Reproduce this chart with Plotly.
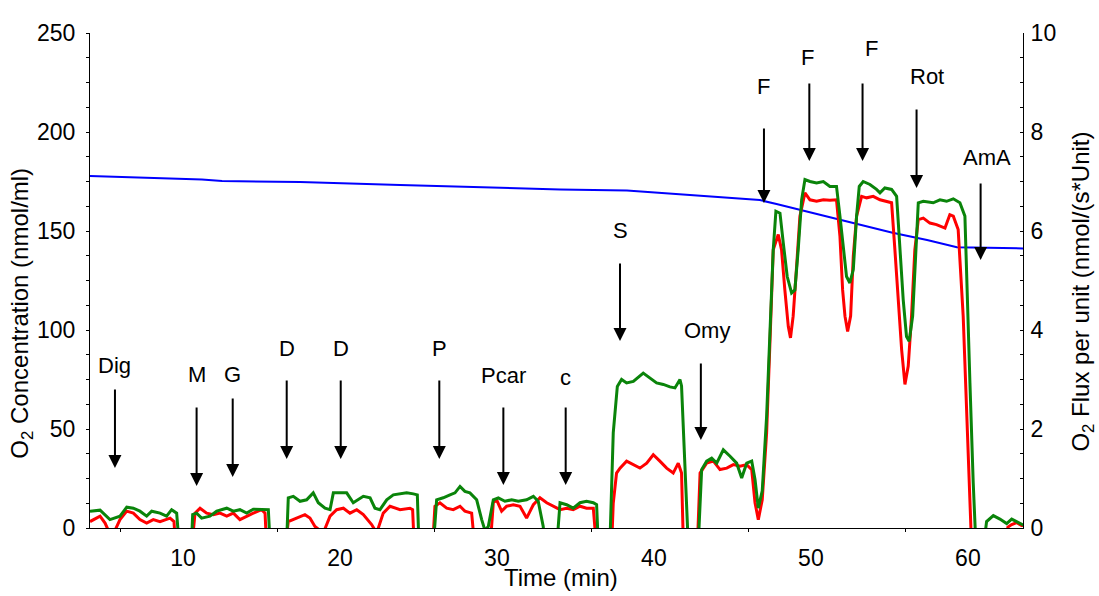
import plotly.graph_objects as go

# ---------------- data ----------------
# O2 concentration (left axis, nmol/ml)
conc_time = [4.08, 5.67, 8.09, 11.21, 12.49, 17.46, 23.83, 34.02, 38.28, 42.93, 46.75,
             47.81, 49.3, 51.4, 53.1, 55.2, 57.4, 59.3, 63.51]
conc_value = [177.8, 177.4, 176.6, 176.0, 175.2, 174.8, 173.2, 171.0, 170.5, 167.8, 165.6,
              163.6, 160.6, 156.4, 153.0, 149.1, 145.5, 141.8, 141.2]

# O2 flux per unit (right axis) - green trace
green_time = [4.08, 4.72, 5.35, 5.99, 6.42, 6.84, 7.26, 7.69, 8.01, 8.54, 8.96, 9.28, 9.60, 9.80,
              10.52, 10.62, 10.87, 11.19, 11.72, 12.15, 12.79, 13.21, 13.63, 14.06, 14.48, 14.91, 15.44, 15.58,
              16.58, 16.71, 17.03, 17.46, 17.88, 18.30, 18.62, 19.05, 19.37, 19.58, 20.43, 20.85, 21.49, 21.92,
              22.23, 22.55, 22.98, 23.40, 24.25, 24.68, 24.93, 25.05,
              25.92, 26.16, 26.58, 27.01, 27.33, 27.65, 27.96, 28.28, 28.71, 29.03, 29.24, 29.45, 29.77, 30.09,
              30.51, 30.94, 31.36, 31.89, 32.32, 32.63, 32.95, 33.08,
              33.78, 34.02, 34.44, 34.86, 35.29, 35.71, 36.14, 36.35, 36.48,
              37.18, 37.41, 37.67, 37.94, 38.26, 38.69, 39.32, 39.75, 40.17, 40.60, 41.02, 41.34, 41.66, 41.76,
              41.98, 42.21,
              42.80, 43.04, 43.36, 43.68, 44.00, 44.42, 44.85, 45.27, 45.59, 45.91, 46.23, 46.44, 46.65, 46.90,
              47.18, 47.39, 47.60, 47.77, 48.03, 48.24, 48.49, 48.77, 48.98, 49.19, 49.41, 49.62, 49.94, 50.36,
              50.79, 51.21, 51.63, 51.85, 52.06, 52.27, 52.48, 52.70, 52.91, 53.08, 53.33, 53.76, 54.18, 54.40,
              54.71, 55.14, 55.46, 55.67, 55.88, 56.09, 56.26, 56.48, 56.69, 56.84, 57.16, 57.79, 58.22, 58.64,
              59.07, 59.49, 59.81, 59.92, 60.13, 60.34, 60.53,
              60.95, 61.19, 61.62, 62.04, 62.47, 62.79, 63.10, 63.42, 63.60]
green_flux = [0.34, 0.36, 0.17, 0.24, 0.42, 0.40, 0.34, 0.24, 0.34, 0.30, 0.24, 0.37, 0.30, -0.5,
              -0.5, 0.27, 0.30, 0.20, 0.24, 0.34, 0.40, 0.34, 0.37, 0.30, 0.38, 0.38, 0.37, -0.5,
              -0.5, 0.61, 0.64, 0.54, 0.57, 0.71, 0.51, 0.40, 0.37, 0.71, 0.71, 0.51, 0.64, 0.61,
              0.40, 0.37, 0.57, 0.67, 0.71, 0.69, 0.67, -0.5,
              -0.5, 0.57, 0.61, 0.67, 0.71, 0.84, 0.74, 0.71, 0.57, 0.17, -0.05, 0.03, 0.57, 0.61,
              0.54, 0.57, 0.54, 0.57, 0.64, 0.54, 0.03, -0.5,
              -0.5, 0.51, 0.47, 0.40, 0.51, 0.54, 0.51, 0.47, -0.5,
              -0.5, 1.92, 2.86, 3.00, 2.93, 2.96, 3.13, 3.03, 2.93, 2.90, 2.85, 2.83, 3.00, 2.87,
              1.25, -0.5,
              -0.5, 1.18, 1.35, 1.41, 1.31, 1.58, 1.45, 1.31, 1.01, 1.31, 1.35, 0.98, 0.40, 0.75,
              2.26, 3.87, 5.62, 6.40, 6.36, 5.76, 5.08, 4.75, 4.81, 5.62, 6.63, 7.04, 7.00, 6.97,
              7.00, 6.90, 6.90, 6.30, 5.62, 5.08, 4.95, 5.22, 6.30, 6.90, 7.00, 6.94, 6.84, 6.77,
              6.87, 6.84, 6.70, 5.62, 4.61, 3.87, 3.77, 4.28, 5.62, 6.57, 6.60, 6.57, 6.63, 6.60,
              6.65, 6.57, 6.30, 4.95, 2.93, 0.91, -0.5,
              -0.5, 0.13, 0.25, 0.18, 0.09, 0.18, 0.13, 0.07, 0.05]

# red trace
red_time = [4.08, 4.72, 5.04, 5.25, 5.46, 5.67, 5.99, 6.42, 6.84, 7.26, 7.69, 8.11, 8.54, 9.18, 9.43, 9.56,
            10.53, 10.77, 11.09, 11.51, 11.94, 12.36, 12.79, 13.21, 13.63, 14.06, 14.48, 15.01, 15.23, 15.35,
            16.48, 16.71, 17.24, 17.77, 18.09, 18.41, 18.94, 19.37, 19.79, 20.22, 20.64, 21.07, 21.49, 22.02,
            22.34, 22.76, 23.19, 23.83, 24.46, 24.63, 24.75,
            25.88, 26.05, 26.37, 26.80, 27.22, 27.65, 27.96, 28.39, 28.62,
            29.54, 29.77, 29.98, 30.30, 30.62, 31.04, 31.47, 31.89, 32.32, 32.74, 33.17, 33.59, 34.02, 34.44,
            34.86, 35.29, 35.71, 36.14, 36.37,
            37.29, 37.41, 37.62, 37.84, 38.26, 38.69, 39.11, 39.54, 39.96, 40.38, 40.81, 41.23, 41.55, 41.76,
            41.89,
            42.75, 42.94, 43.36, 43.79, 44.21, 44.64, 45.06, 45.49, 45.91, 46.23, 46.44, 46.65, 46.90, 47.18,
            47.39, 47.60, 47.92, 48.13, 48.34, 48.56, 48.70, 48.87, 49.09, 49.30, 49.62, 49.94, 50.36, 50.79,
            51.21, 51.63, 51.85, 52.02, 52.17, 52.34, 52.53, 52.70, 52.91, 53.23, 53.55, 53.97, 54.40, 54.82,
            55.14, 55.35, 55.56, 55.78, 55.99, 56.20, 56.41, 56.62, 56.84, 57.16, 57.58, 58.00, 58.54, 58.85,
            59.07, 59.38, 59.70, 59.92, 60.13, 60.25,
            62.35, 62.55, 62.79, 63.10, 63.42, 63.60]
red_flux = [0.13, 0.24, 0.10, -0.05, -0.1, -0.05, 0.17, 0.34, 0.30, 0.17, 0.10, 0.17, 0.13, 0.20, 0.13, -0.5,
            -0.5, 0.30, 0.40, 0.30, 0.27, 0.30, 0.24, 0.30, 0.17, 0.24, 0.30, 0.37, 0.30, -0.5,
            -0.5, 0.13, 0.20, 0.27, 0.20, 0.03, -0.1, 0.24, 0.37, 0.40, 0.30, 0.37, 0.27, 0.07,
            -0.1, 0.30, 0.44, 0.37, 0.40, 0.37, -0.5,
            -0.5, 0.44, 0.51, 0.40, 0.37, 0.44, 0.34, 0.30, -0.5,
            -0.5, 0.51, 0.57, 0.34, 0.44, 0.47, 0.44, 0.20, 0.47, 0.61, 0.51, 0.44, 0.37, 0.40,
            0.37, 0.44, 0.40, 0.40, -0.5,
            -0.5, 0.50, 1.11, 1.21, 1.35, 1.28, 1.21, 1.31, 1.48, 1.35, 1.21, 1.11, 1.31, 1.11,
            -0.5,
            -0.5, 1.11, 1.31, 1.35, 1.18, 1.21, 1.28, 1.25, 1.28, 1.18, 0.51, 0.17, 0.57, 1.92,
            3.74, 5.62, 5.93, 5.62, 4.81, 4.07, 3.84, 4.28, 5.29, 6.30, 6.77, 6.63, 6.60, 6.63,
            6.62, 6.63, 5.89, 4.81, 4.28, 3.97, 4.28, 5.49, 6.30, 6.70, 6.67, 6.70, 6.63, 6.60,
            6.57, 5.62, 4.61, 3.60, 2.90, 3.27, 4.28, 5.62, 6.23, 6.26, 6.16, 6.13, 6.06, 6.33,
            6.30, 6.03, 4.28, 2.26, 0.57, -0.5,
            -0.5, 0.02, 0.07, 0.11, 0.05, 0.05]

# event markers (time in min, values in left-axis units)
event_labels = ["Dig", "M", "G", "D", "D", "P", "Pcar", "c", "S", "Omy", "F", "F", "F", "Rot", "AmA"]
event_time = [5.67, 10.87, 13.17, 16.61, 20.05, 26.33, 30.41, 34.38, 37.84, 42.99, 47.01, 49.90, 53.29, 56.73, 60.81]
label_time = [5.67, 10.87, 13.17, 16.61, 20.05, 26.33, 30.41, 34.38, 37.84, 43.38, 47.01, 49.81, 53.85, 57.37, 61.19]
label_level = [82.3, 77.3, 77.3, 90.9, 90.9, 90.6, 76.8, 75.8, 150.5, 100.0, 223.2, 237.4, 242.4, 227.8, 186.9]
arrow_tail = [70.7, 61.6, 66.2, 75.3, 75.3, 75.3, 61.6, 61.6, 134.3, 83.8, 202.5, 225.3, 225.3, 212.1, 174.7]
arrow_tip = [30.3, 21.2, 25.8, 34.8, 34.8, 34.8, 21.7, 21.7, 94.4, 44.4, 164.1, 185.4, 185.4, 171.7, 135.4]

x_tick_vals = [10, 20, 30, 40, 50, 60]
x_minor_vals = [6, 16, 26, 36, 46, 56]

FONT = "Arial, Liberation Sans, sans-serif"

# ---------------- figure ----------------
fig = go.Figure()
fig.add_trace(go.Scatter(x=conc_time, y=conc_value, mode="lines", yaxis="y",
                         line=dict(color="#0000ff", width=2), showlegend=False))
fig.add_trace(go.Scatter(x=red_time, y=red_flux, mode="lines", yaxis="y2",
                         line=dict(color="#ff0000", width=3), showlegend=False))
fig.add_trace(go.Scatter(x=green_time, y=green_flux, mode="lines", yaxis="y2",
                         line=dict(color="#0a840a", width=3), showlegend=False))

annotations = []
for lab, et, lt, ly, tail, tip in zip(event_labels, event_time, label_time, label_level, arrow_tail, arrow_tip):
    annotations.append(dict(x=et, y=tip, ax=et, ay=tail, xref="x", yref="y", axref="x", ayref="y",
                            text="", showarrow=True, arrowhead=2, arrowsize=1.3, arrowwidth=2,
                            arrowcolor="black", standoff=0))
    annotations.append(dict(x=lt, y=ly, xref="x", yref="y", text=lab, showarrow=False,
                            font=dict(family=FONT, size=22, color="black"),
                            xanchor="center", yanchor="middle"))

annotations.append(dict(x=-0.0729, y=0.435, xref="paper", yref="paper", textangle=-90,
                        text="O<sub>2</sub> Concentration (nmol/ml)", showarrow=False,
                        font=dict(family=FONT, size=24, color="black"),
                        xanchor="center", yanchor="middle"))
annotations.append(dict(x=1.064, y=0.477, xref="paper", yref="paper", textangle=-90,
                        text="O<sub>2</sub> Flux per unit (nmol/(s*Unit)", showarrow=False,
                        font=dict(family=FONT, size=24, color="black"),
                        xanchor="center", yanchor="middle"))
annotations.append(dict(x=0.505, y=-0.1, xref="paper", yref="paper",
                        text="Time (min)", showarrow=False,
                        font=dict(family=FONT, size=24, color="black"),
                        xanchor="center", yanchor="middle"))

fig.update_layout(
    width=1099, height=596,
    margin=dict(l=90, r=76, t=33, b=68),
    paper_bgcolor="white", plot_bgcolor="white",
    font=dict(family=FONT, size=23, color="black"),
    xaxis=dict(range=[4.08, 63.51], showgrid=False, zeroline=False,
               showline=True, linecolor="black", linewidth=1,
               tickmode="array", tickvals=x_tick_vals, ticks="",
               ticklabelstandoff=9,
               minor=dict(tickmode="array", tickvals=x_minor_vals, ticks="outside",
                          ticklen=3, tickcolor="black", showgrid=False),
               tickfont=dict(family=FONT, size=23, color="black")),
    yaxis=dict(range=[0, 250], showgrid=False, zeroline=False,
               showline=True, linecolor="black", linewidth=1,
               tickmode="linear", tick0=0, dtick=50, ticks="outside", ticklen=3,
               tickcolor="black",
               minor=dict(dtick=12.5, ticks="outside", ticklen=3, tickcolor="black", showgrid=False),
               tickfont=dict(family=FONT, size=23, color="black"),
               ticklabelstandoff=6),
    yaxis2=dict(range=[0, 10], overlaying="y", side="right", showgrid=False, zeroline=False,
                showline=True, linecolor="black", linewidth=1,
                tickmode="linear", tick0=0, dtick=2, ticks="inside", ticklen=3,
                tickcolor="black",
                minor=dict(dtick=0.5, ticks="inside", ticklen=3, tickcolor="black", showgrid=False),
                tickfont=dict(family=FONT, size=23, color="black"),
                ticklabelstandoff=2),
    annotations=annotations,
)

fig.write_html("out.html")
